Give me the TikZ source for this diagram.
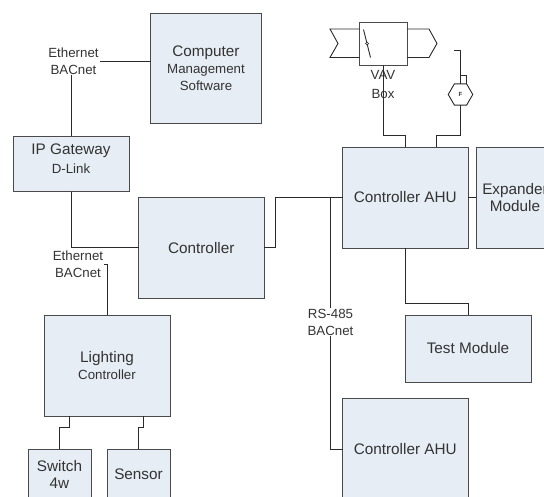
\documentclass[tikz,border=0pt]{standalone}
\usepackage{xcolor}
\usepackage{fontspec}
\setmainfont{Liberation Sans}
\usetikzlibrary{shapes.geometric}
\definecolor{pfill}{HTML}{E6EDF4}
\definecolor{pedge}{HTML}{4A4A4A}
\definecolor{pline}{HTML}{2A2A2A}
\definecolor{ptext}{HTML}{333333}
\newcommand{\bigtxt}{\fontsize{15.3}{17}\selectfont}
\newcommand{\smalltxt}{\fontsize{13.3}{17}\selectfont}
\tikzset{
  unitbox/.style={draw=pedge,fill=pfill,line width=0.9pt,inner sep=0pt,outer sep=0pt,
    align=center,text=ptext,font=\bigtxt},
  netlabel/.style={align=center,text=ptext,font=\smalltxt,inner sep=1pt,outer sep=0pt},
  wire/.style={draw=pline,line width=0.9pt}
}

\begin{document}
\begin{tikzpicture}[x=1pt,y=-1pt]
  \useasboundingbox (0,0) rectangle (544,496);
  \clip (0,0) rectangle (544,496);

  % boxes
  \node[unitbox,minimum width=111pt,minimum height=110pt] (computer) at (206,68)
    {Computer\\{\smalltxt Management}\\{\smalltxt Software}};
  \node[unitbox,minimum width=116pt,minimum height=55.5pt] (gateway) at (71,163.75)
    {IP Gateway\\[2pt]{\smalltxt D-Link}\\[-7pt]\mbox{}};
  \node[unitbox,minimum width=125.5pt,minimum height=100.5pt] (controller) at (201.25,247.75) {Controller};
  \node[unitbox,minimum width=125.5pt,minimum height=101pt] (ahuA) at (405.25,197.5) {Controller AHU};
  \node[unitbox,minimum width=78pt,minimum height=101pt] (expander) at (515,197.5) {Expander\\Module};
  \node[unitbox,minimum width=126pt,minimum height=67pt] (testmod) at (468,348.5) {Test Module};
  \node[unitbox,minimum width=125.5pt,minimum height=101pt] (ahuB) at (405.25,449) {Controller AHU};
  \node[unitbox,minimum width=126pt,minimum height=101pt] (lighting) at (107,365.5)
    {Lighting\\{\smalltxt Controller}};
  \node[unitbox,minimum width=63pt,minimum height=50pt] (switch) at (59.5,474) {Switch\\4w};
  \node[unitbox,minimum width=63pt,minimum height=50pt] (sensor) at (138.5,474) {Sensor};

  % labels on the lines
  \node[netlabel] (etherA) at (73.5,61) {Ethernet\\BACnet};
  \node[netlabel] (etherB) at (78,264) {Ethernet\\BACnet};
  \node[netlabel] (rsnet) at (330.5,322) {RS-485\\BACnet};
  \coordinate (rsjoin) at (330.5,197.5);

  % VAV box
  \node[draw=pedge,line width=0.9pt,minimum width=47.5pt,minimum height=43pt,inner sep=0pt,outer sep=0pt] (vav) at (383.25,43.5) {};
  \node[netlabel,text=ptext,font=\smalltxt,execute at begin node={\baselineskip=19pt}] (vavtxt) at (383,84.5) {VAV\\Box};
  \draw[wire] (vav.west |- 0,29) -- (330,29) -- (338,43.5) -- (330,57.5) -- (vav.west |- 0,57.5);
  \draw[wire] (vav.east |- 0,29) -- (429,29) -- (437,43.5) -- (429,57.5) -- (vav.east |- 0,57.5);
  \draw[wire] (363.5,29.5) -- (370.5,57.5);
  \draw[draw=pline,fill=white,line width=0.7pt] (367,43.5) circle (1.5pt);

  % flow sensor
  \node[regular polygon,regular polygon sides=6,draw=pline,line width=0.9pt,minimum size=24.5pt,inner sep=0pt,outer sep=0pt,
    text=ptext,font=\fontsize{6}{6}\selectfont\bfseries] (flow) at (460.5,94.5) {F};
  \draw[wire] (flow.north) -- ++(0,-33) -- ++(-6.5,0);
  \draw[wire] (flow.north) -- ++(0,-8.5) -- ++(5.5,0) -- ++(0,8.5);

  % connectors
  \draw[wire] (etherA.east) -- (etherA.east -| computer.west);
  \draw[wire] (gateway.north) -- (gateway.north |- etherA.south);
  \draw[wire] (gateway.south) |- (controller.west);
  \draw[wire] (lighting.north) |- (etherB.east);
  \draw[wire] ([xshift=-37.5pt]lighting.south) -- ++(0,11) -| (switch.north);
  \draw[wire] ([xshift=36pt]lighting.south) -- ++(0,11) -| (sensor.north);
  \draw[wire] (controller.east) -- ++(11.5,0) |- (ahuA.west);
  \draw[wire] (ahuA.east) -- (expander.west);
  \draw[wire] (ahuA.south) -- ++(0,55) -| (testmod.north);
  \draw[wire] (rsjoin) -- (rsnet.north);
  \draw[wire] (rsnet.south) |- (ahuB.west);
  \draw[wire] (vav.south) -- ++(0,70) -| (ahuA.north);
  \draw[wire] ([xshift=31.25pt]ahuA.north) -- ++(0,-12) -| (flow.south);
\end{tikzpicture}
\end{document}
